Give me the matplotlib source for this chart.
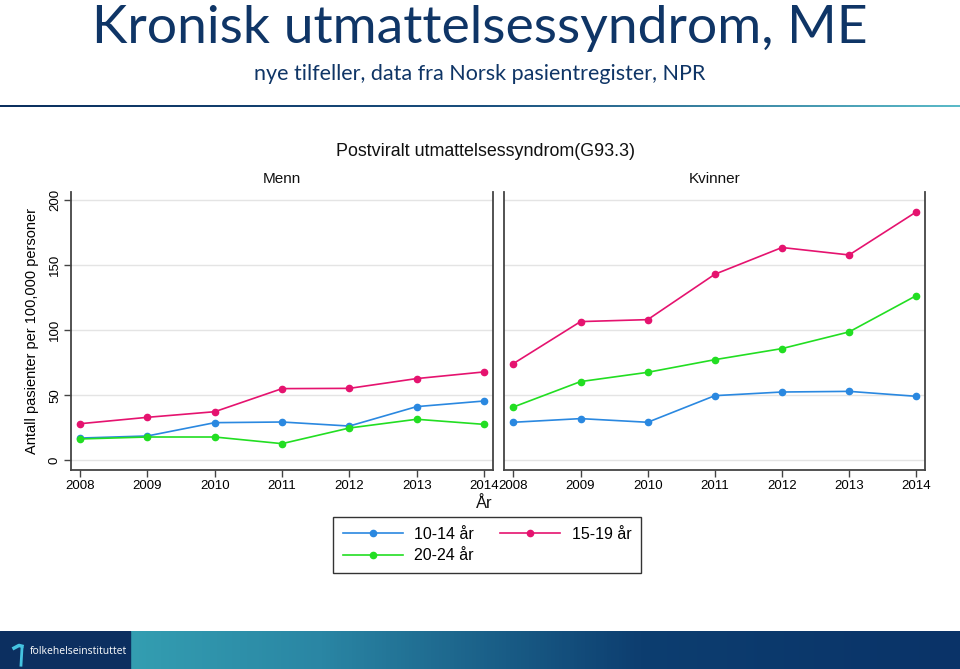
import numpy as np
import matplotlib.pyplot as plt
from matplotlib.lines import Line2D
from matplotlib.colors import LinearSegmentedColormap

years = [2008, 2009, 2010, 2011, 2012, 2013, 2014]

menn_10_14 = [17.1, 18.7, 28.9, 29.4, 26.3, 41.2, 45.5]
menn_15_19 = [28.1, 33.0, 37.3, 55.0, 55.2, 62.7, 67.8]
menn_20_24 = [16.4, 17.9, 17.9, 12.8, 24.8, 31.5, 27.6]

kvinner_10_14 = [29.2, 32.0, 29.2, 49.6, 52.4, 52.9, 49.1]
kvinner_15_19 = [74.2, 106.4, 107.9, 142.7, 163.2, 157.5, 190.5]
kvinner_20_24 = [40.9, 60.4, 67.5, 77.2, 85.7, 98.5, 126.3]

groups = ['10-14 år', '15-19 år', '20-24 år']
colors = ['#2a88e0', '#e5136f', '#22de22']
yticks = [0, 50, 100, 150, 200]

W, H = 960, 669
fig = plt.figure(figsize=(W / 100, H / 100), dpi=100)
fig.patch.set_facecolor('white')

sans = ['Liberation Sans', 'DejaVu Sans']


def px_axes(x0, y0, x1, y1):
    # pixel box (top-left origin) -> figure axes
    return fig.add_axes([x0 / W, 1 - y1 / H, (x1 - x0) / W, (y1 - y0) / H])


# header
fig.text(0.5, 1 - 28 / H, 'Kronisk utmattelsessyndrom, ME', ha='center', va='center',
         fontsize=38.5, color='#0f3566', family=['Lato', 'DejaVu Sans'])
fig.text(0.5, 1 - 74 / H, 'nye tilfeller, data fra Norsk pasientregister, NPR', ha='center',
         va='center', fontsize=15.5, color='#0f3566', family=['Lato', 'DejaVu Sans'])

grad = np.linspace(0, 1, 256).reshape(1, -1)
line_ax = px_axes(0, 104.5, W, 107.5)
cm_line = LinearSegmentedColormap.from_list('l', ['#0b2f5e', '#1a4f7e', '#5bbac8'])
line_ax.imshow(grad, aspect='auto', cmap=cm_line, extent=[0, 1, 0, 1])
line_ax.axis('off')

# footer band
band_ax = px_axes(0, 631, W, H)
cm_band = LinearSegmentedColormap.from_list('b', ['#3aaeba', '#2a86a4', '#0d3e70', '#0a3368'])
band_ax.imshow(grad, aspect='auto', cmap=cm_band, extent=[0, 1, 0, 1])
band_ax.axvspan(0, 130 / W, color='#0c2f60')
band_ax.set_xlim(0, 1)
band_ax.set_ylim(0, 1)
band_ax.axis('off')
band_ax.text(30 / W, 0.45, 'folkehelseinstituttet', color='white', fontsize=7.5,
             va='center', ha='left', family=['Open Sans', 'DejaVu Sans'])
band_ax.plot([14 / W, 19 / W, 22 / W], [0.55, 0.62, 0.6], color='#45c3e0', lw=2.5)
band_ax.plot([22 / W, 21 / W], [0.55, 0.1], color='#45c3e0', lw=2)

# chart title
fig.text(486 / W, 1 - 152 / H, 'Postviralt utmattelsessyndrom(G93.3)', ha='center', va='center',
         fontsize=12.9, family=sans, color='#111111')

ax1 = px_axes(70.7, 191.7, 492.7, 470)
ax2 = px_axes(504, 191.7, 925, 470)

panels = [
    (ax1, 'Menn', 282, [menn_10_14, menn_15_19, menn_20_24]),
    (ax2, 'Kvinner', 715, [kvinner_10_14, kvinner_15_19, kvinner_20_24]),
]

for ax, name, xc, series in panels:
    for vals, c in zip(series, colors):
        ax.plot(years, vals, color=c, lw=1.2, marker='o', ms=4.5, zorder=3)
    ax.set_xlim(2007.86, 2014.13)
    ax.set_ylim(-7.4, 206)
    ax.set_xticks(years)
    ax.set_xticklabels([str(y) for y in years], family=sans, fontsize=9.5)
    ax.set_yticks(yticks)
    ax.grid(axis='y', color='#e4e4e4', lw=1)
    ax.set_axisbelow(True)
    for s in ['left', 'right', 'bottom']:
        ax.spines[s].set_color('#444444')
        ax.spines[s].set_linewidth(1.3)
    ax.spines['top'].set_visible(False)
    ax.tick_params(axis='x', direction='out', length=5, width=1, color='#444444', pad=2)
    ax.tick_params(axis='y', direction='out', length=5, width=1, color='#444444', pad=2)
    fig.text(xc / W, 1 - 179 / H, name, ha='center', va='center',
             fontsize=11, family=sans, color='#111111')

ax1.set_yticklabels([str(v) for v in yticks], family=sans, fontsize=9.5, rotation=90, va='center')
ax2.tick_params(axis='y', length=0, labelleft=False)
ax1.set_ylabel('Antall pasienter per 100,000 personer', family=sans, fontsize=10.5, labelpad=7)

fig.text(493 / W, 1 - 503 / H, 'År', ha='right', va='center', fontsize=12, family=sans,
         color='#111111')

handles = [Line2D([], [], color=c, marker='o', ms=4.5, lw=1.2) for c in colors]
order = [0, 2, 1]
leg = fig.legend([handles[i] for i in order], [groups[i] for i in order], ncol=2,
                 loc='upper left', bbox_to_anchor=(333 / W, 1 - 517 / H), borderaxespad=0,
                 fancybox=False, edgecolor='#333333', framealpha=1,
                 prop={'family': sans, 'size': 11.5}, handlelength=3.8, handletextpad=0.7,
                 columnspacing=1.6, borderpad=0.6, labelspacing=0.42)
leg.get_frame().set_linewidth(1)

fig.savefig('out.png', dpi=100)
